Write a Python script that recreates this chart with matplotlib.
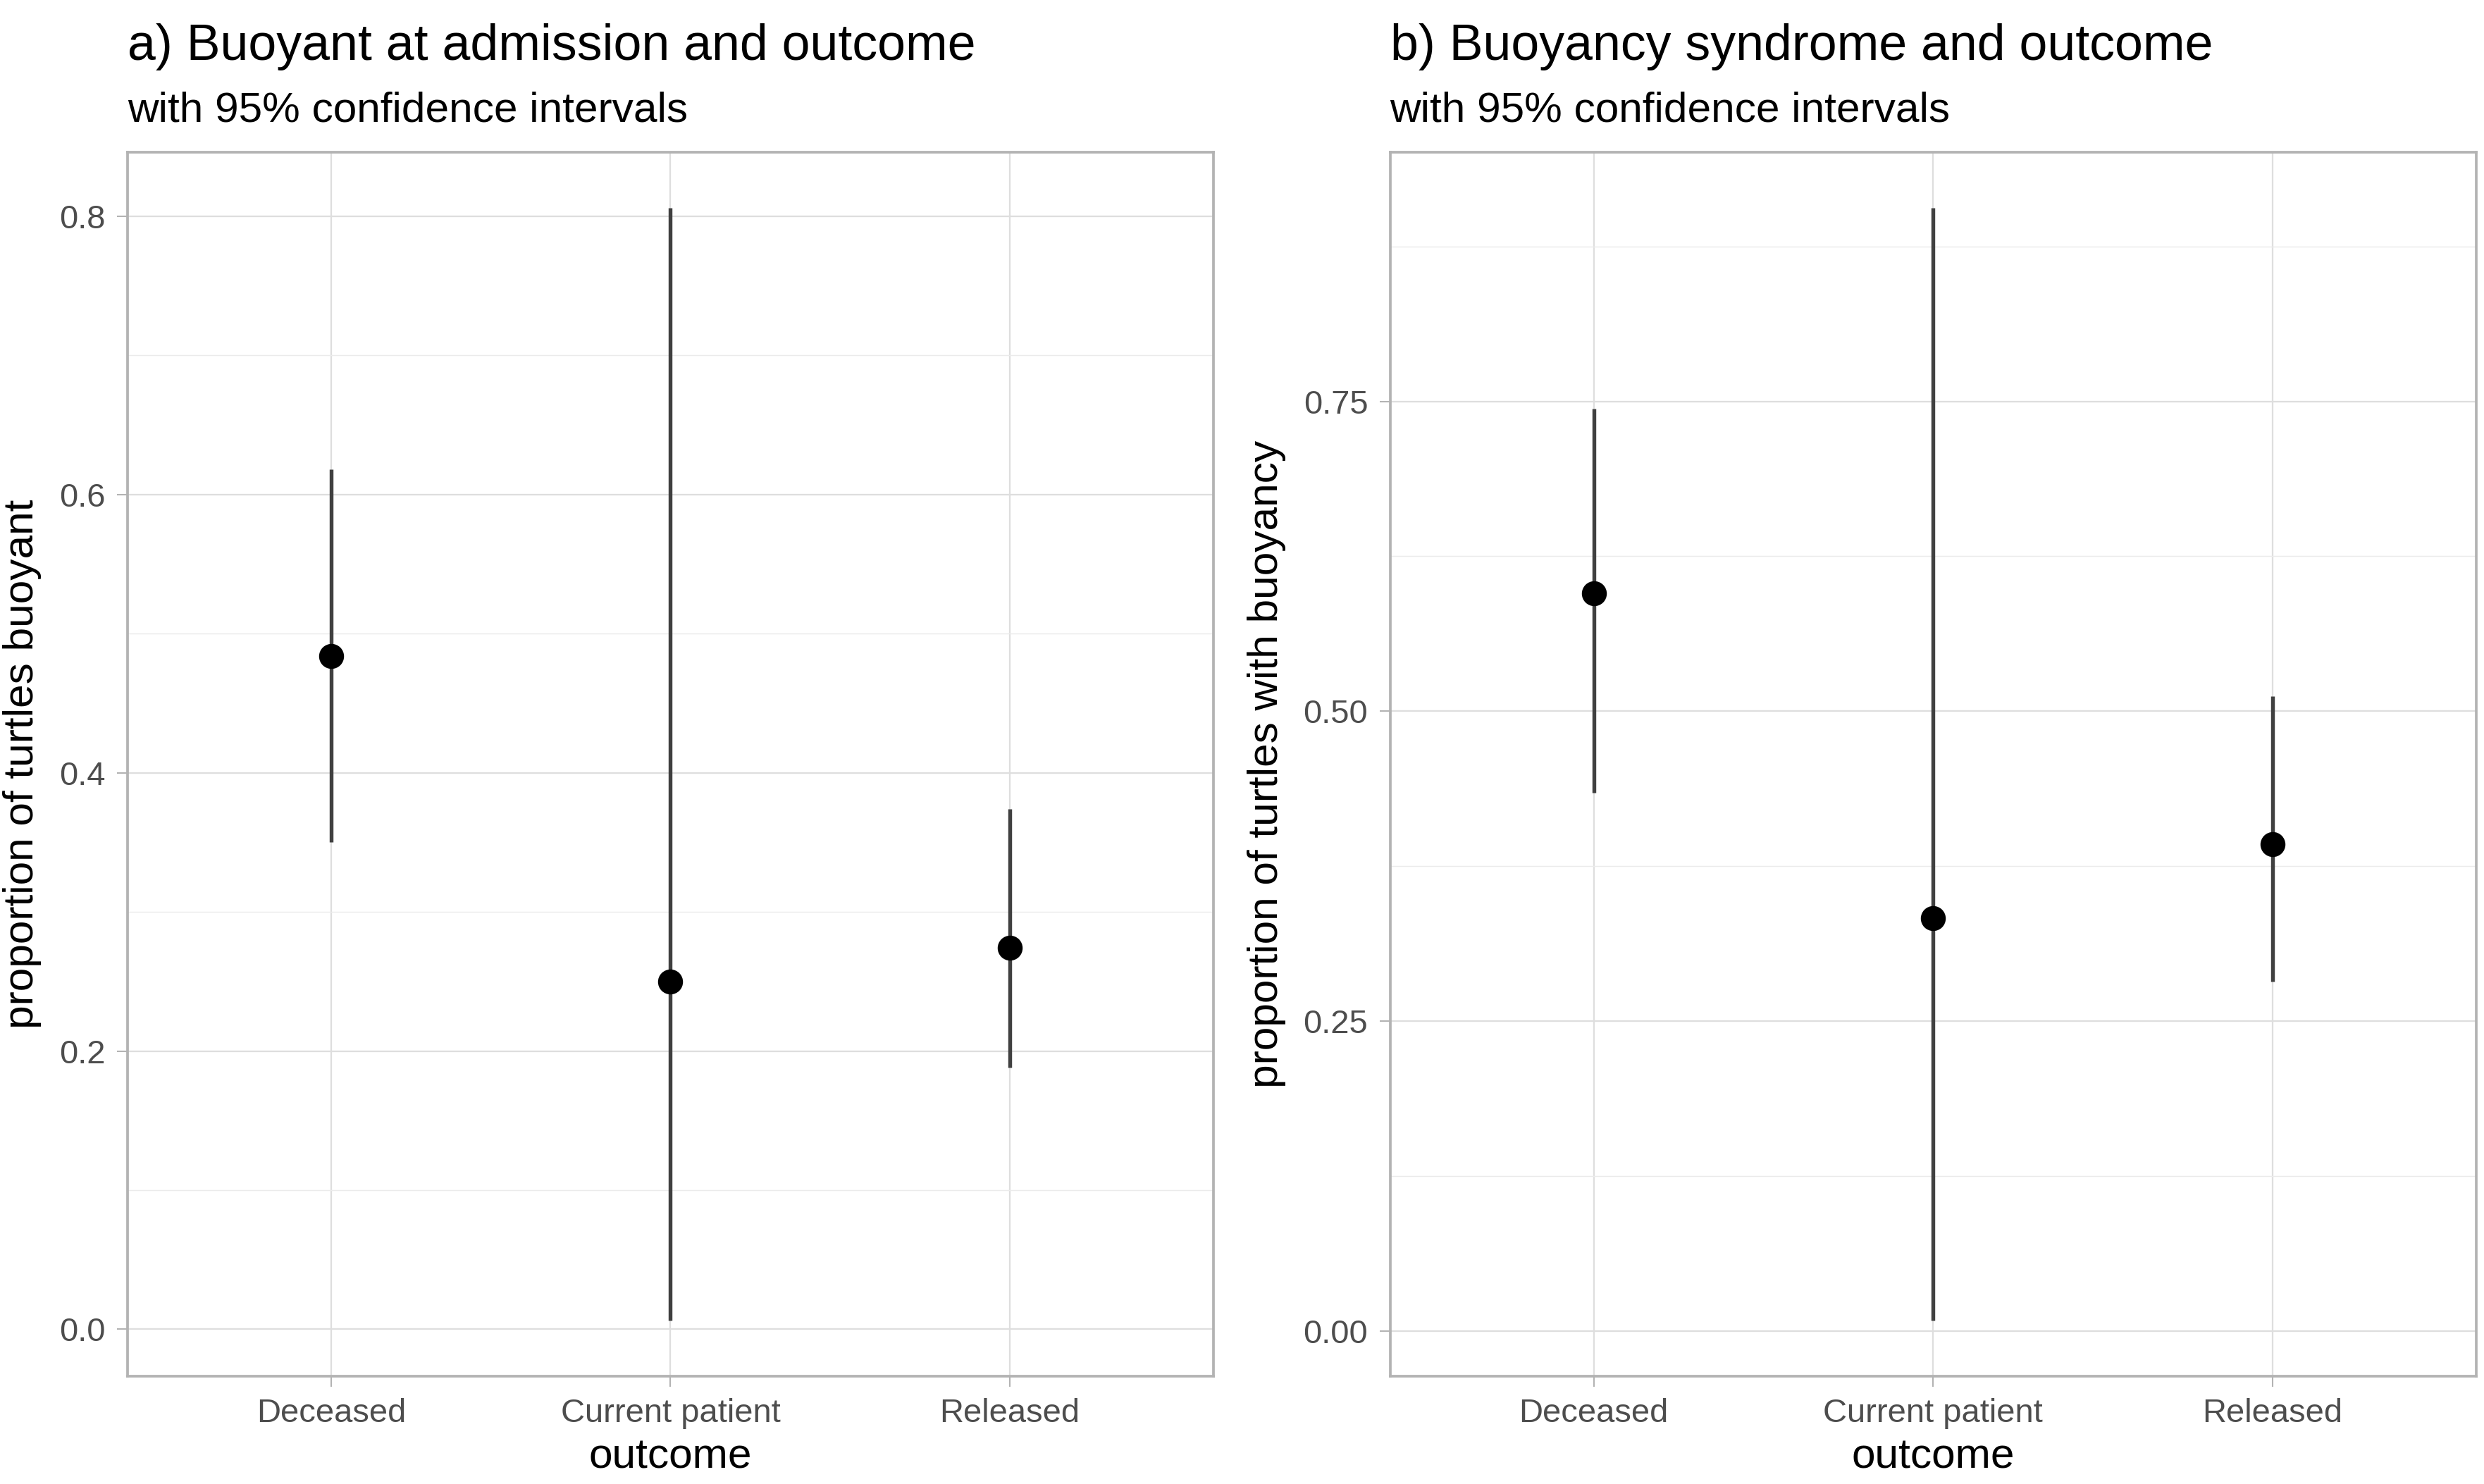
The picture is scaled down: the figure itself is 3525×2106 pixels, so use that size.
import numpy as np
import matplotlib.pyplot as plt
from matplotlib.ticker import MultipleLocator, FormatStrFormatter

plt.rcParams['font.family'] = ['Liberation Sans', 'DejaVu Sans']

outcomes = ["Deceased", "Current patient", "Released"]

# panel a: buoyant at admission
buoyant_prop = [0.484, 0.250, 0.274]
buoyant_lo = [0.350, 0.0063, 0.188]
buoyant_hi = [0.618, 0.806, 0.374]

# panel b: buoyancy syndrome
syndrome_prop = [0.595, 0.333, 0.393]
syndrome_lo = [0.434, 0.0084, 0.282]
syndrome_hi = [0.744, 0.906, 0.512]

panels = [
    ("a) Buoyant at admission and outcome", "proportion of turtles buoyant",
     buoyant_prop, buoyant_lo, buoyant_hi, 0.2, "%.1f"),
    ("b) Buoyancy syndrome and outcome", "proportion of turtles with buoyancy",
     syndrome_prop, syndrome_lo, syndrome_hi, 0.25, "%.2f"),
]

fig = plt.figure(figsize=(11.75, 7.02), dpi=300, facecolor='white')
lefts = [0.0513, 0.5596]

for left, (title, ylab, p, lo, hi, step, fmt) in zip(lefts, panels):
    ax = fig.add_axes([left, 0.0727, 0.4372, 0.8246])
    x = np.arange(1, len(outcomes) + 1)
    ax.vlines(x, lo, hi, color='#404040', linewidth=1.3, zorder=3)
    ax.plot(x, p, 'o', color='black', markersize=7.5, zorder=4)

    # ggplot-like expansion
    ymin, ymax = min(lo), max(hi)
    pad = 0.05 * (ymax - ymin)
    ax.set_ylim(ymin - pad, ymax + pad)
    ax.set_xlim(0.4, len(outcomes) + 0.6)

    ax.set_xticks(x)
    ax.set_xticklabels(outcomes)
    ax.yaxis.set_major_locator(MultipleLocator(step))
    ax.yaxis.set_minor_locator(MultipleLocator(step / 2))
    ax.yaxis.set_major_formatter(FormatStrFormatter(fmt))

    ax.grid(True, which='major', color='#DEDEDE', linewidth=0.55)
    ax.grid(True, which='minor', axis='y', color='#EBEBEB', linewidth=0.35)
    ax.set_axisbelow(True)
    ax.tick_params(which='major', length=3.5, width=0.5, color='#B3B3B3',
                   labelsize=11.3, labelcolor='#4D4D4D', pad=4)
    ax.tick_params(which='minor', length=0)
    for s in ax.spines.values():
        s.set_color('#B3B3B3')
        s.set_linewidth(0.9)

    ax.set_xlabel("outcome", fontsize=14.5, labelpad=3)
    ax.set_ylabel(ylab, fontsize=14.5, labelpad=6)
    ax.text(0, 1.086, title, transform=ax.transAxes, fontsize=17.2,
            ha='left', va='center')
    ax.text(0, 1.034, "with 95% confidence intervals", transform=ax.transAxes,
            fontsize=14.5, ha='left', va='center')

fig.savefig("out.png", dpi=300, facecolor='white')
